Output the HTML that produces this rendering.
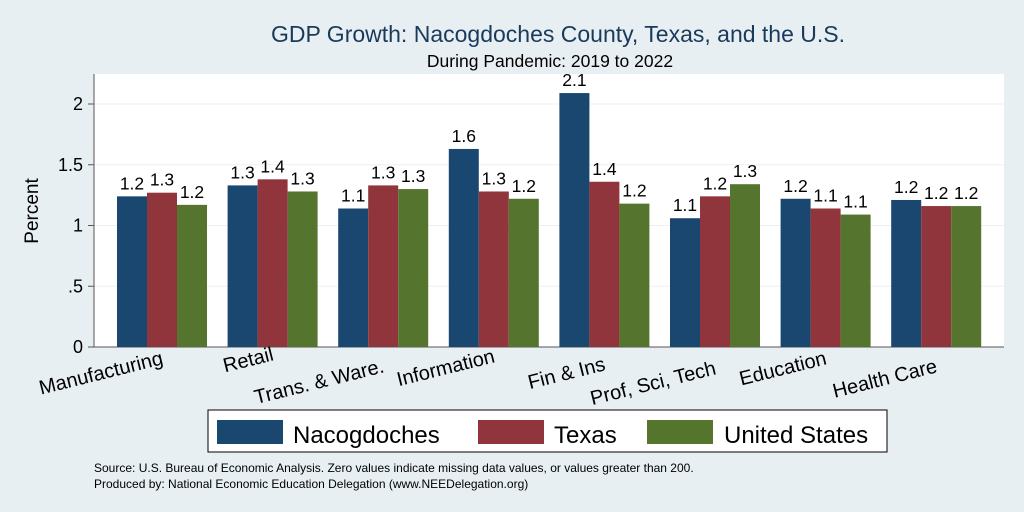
<!DOCTYPE html>
<html><head><meta charset="utf-8"><style>
body{margin:0;background:#e8eff2;}
svg{display:block;font-family:"Liberation Sans",sans-serif;}
</style></head><body>
<svg id="c" width="1024" height="512">
<rect width="1024" height="512" fill="#e8eff2"/>
<text x="558" y="42" font-size="23" fill="#1a3a5c" text-anchor="middle">GDP Growth: Nacogdoches County, Texas, and the U.S.</text>
<text x="550" y="67" font-size="17.5" fill="#000" text-anchor="middle">During Pandemic: 2019 to 2022</text>
<rect x="94" y="74" width="910" height="273" fill="#fff"/>
<g id="grid"></g><g id="bars"></g><g id="labels"></g>
<text transform="translate(38,211) rotate(-90)" font-size="19" text-anchor="middle">Percent</text>
<g>
<rect x="208" y="410" width="679" height="42" fill="#fff" stroke="#000" stroke-width="1"/>
<rect x="217" y="420" width="66" height="24" fill="#1a476f"/>
<text x="293" y="443" font-size="24">Nacogdoches</text>
<rect x="478" y="420" width="66" height="24" fill="#90353b"/>
<text x="554" y="443" font-size="24">Texas</text>
<rect x="647" y="420" width="66" height="24" fill="#55752f"/>
<text x="724" y="443" font-size="24">United States</text>
</g>
<text x="94" y="472" font-size="12">Source: U.S. Bureau of Economic Analysis. Zero values indicate missing data values, or values greater than 200.</text>
<text x="94" y="488" font-size="12">Produced by: National Economic Education Delegation (www.NEEDelegation.org)</text>
</svg>
<script>
const categories=["Manufacturing","Retail","Trans. & Ware.","Information","Fin & Ins","Prof, Sci, Tech","Education","Health Care"];
const nacogdoches=[1.24,1.33,1.14,1.63,2.09,1.06,1.22,1.21];
const texas=[1.27,1.38,1.33,1.28,1.36,1.24,1.14,1.16];
const unitedStates=[1.17,1.28,1.30,1.22,1.18,1.34,1.09,1.16];
const yTicks=[0,0.5,1,1.5,2];
const yTickLabels=["0",".5","1","1.5","2"];
const NS="http://www.w3.org/2000/svg";
const labelBase=[364,360,372,362,370,374,364,372];
const y0=347,unit=121.5;
function yScale(v){return y0-v*unit;}
function xCenter(i){return 162+i*110.6;}
function mk(tag,attrs,parent){const e=document.createElementNS(NS,tag);for(const k in attrs)e.setAttribute(k,attrs[k]);parent.appendChild(e);return e;}
const grid=document.getElementById('grid'),bars=document.getElementById('bars'),labels=document.getElementById('labels');
yTicks.forEach((t,i)=>{
  if(t>0){const g=mk('line',{x1:94,x2:1004,y1:yScale(t),y2:yScale(t),stroke:'#eaf0f3','stroke-width':1},grid);
  
  }
  const tk=mk('line',{x1:88,x2:94,y1:yScale(t),y2:yScale(t),stroke:'#555'},grid);
  
  
  const tl=mk('text',{x:83,y:yScale(t)+6,'font-size':18,'text-anchor':'end'},grid);
  tl.textContent=yTickLabels[i];
  
  
});
const ax=mk('line',{x1:94,x2:94,y1:74,y2:347,stroke:'#555'},grid);


const ax2=mk('line',{x1:88,x2:1004,y1:347,y2:347,stroke:'#555'},grid);


const series=[[nacogdoches,'#1a476f','nacogdoches'],[texas,'#90353b','texas'],[unitedStates,'#55752f','us']];
const bw=30;
categories.forEach((c,i)=>{
  series.forEach((s,j)=>{
    const v=s[0][i],x=xCenter(i)-45+j*bw;
    const r=mk('rect',{x:x,y:yScale(v),width:bw,height:y0-yScale(v),fill:s[1]},bars);
    
    
    const t=mk('text',{x:x+bw/2,y:yScale(v)-7,'font-size':17.5,'text-anchor':'middle'},labels);
    t.textContent=v.toFixed(1);
    
    
  });
  const ly=labelBase[i];
  const lx=xCenter(i)+2;
  const cl=mk('text',{x:lx,y:ly,'font-size':20,'text-anchor':'end',transform:'rotate(-14 '+lx+' '+ly+')'},labels);
  cl.textContent=c;
  
  
});
</script>
</body></html>
